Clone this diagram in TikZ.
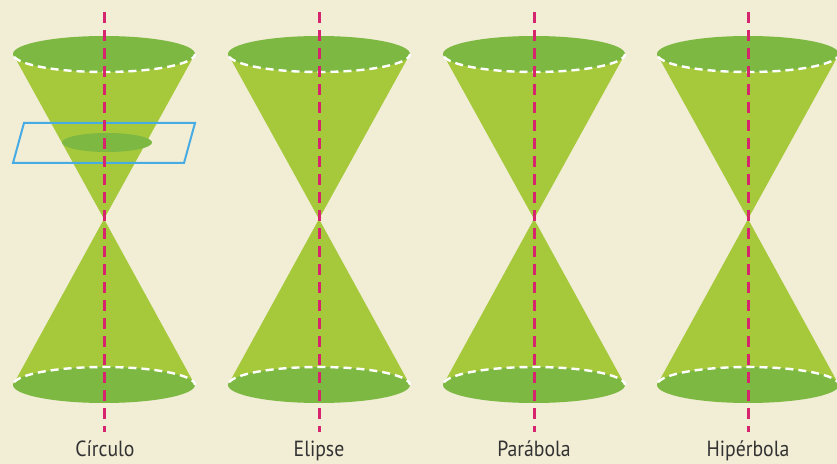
\documentclass[tikz,border=0pt]{standalone}
\usepackage{fontspec}
\setmainfont{PT Sans}
\definecolor{paper}{RGB}{242,237,213}
\definecolor{conelight}{RGB}{166,201,60}
\definecolor{conedark}{RGB}{124,184,66}
\definecolor{axisred}{RGB}{214,36,110}
\definecolor{planeblue}{RGB}{72,172,228}
\definecolor{labelgrey}{RGB}{50,50,50}
\tikzset{
  conesurf/.style={fill=conelight},
  rim/.style={fill=conedark},
  hiddenedge/.style={draw=white, line width=2.4bp, dash pattern=on 8bp off 5bp, dash phase=2bp},
  coneaxis/.style={draw=axisred, line width=3bp, dash pattern=on 11bp off 7bp},
  cutplane/.style={draw=planeblue, line width=2bp, line join=miter},
  caption/.style={text=labelgrey, font=\fontsize{22}{26}\selectfont, anchor=base, inner sep=0pt},
  doublecone/.pic={
    % upper and lower nappes
    \fill[conesurf] (-91,54) -- (0,219) -- (91,54) -- cycle;
    \fill[conesurf] (-91,385) -- (0,219) -- (91,385) -- cycle;
    % rims of the nappes
    \fill[rim] (0,54) ellipse [x radius=91, y radius=18];
    \fill[rim] (0,385) ellipse [x radius=91, y radius=18];
    % hidden halves of the rims
    \draw[hiddenedge] (91,54) arc [start angle=0, end angle=180, x radius=91, y radius=18];
    \draw[hiddenedge] (91,385) arc [start angle=0, end angle=-180, x radius=91, y radius=18];
  }
}
\begin{document}
\begin{tikzpicture}[x=1bp, y=-1bp]
  \useasboundingbox (0,0) rectangle (837,464);
  \fill[paper] (0,0) rectangle (837,464);

  \pic at (104,0) {doublecone};
  \pic at (319,0) {doublecone};
  \pic at (534,0) {doublecone};
  \pic at (748,0) {doublecone};

  % circular section and its cutting plane
  \fill[rim] (107,142.5) ellipse [x radius=45, y radius=9.5];
  \draw[cutplane] (24,123) -- (195,123) -- (184,163) -- (13,163) -- cycle;

  % axes of the cones
  \foreach \x in {104,319,534,748}
    \draw[coneaxis] (\x,12) -- (\x,432);

  % captions
  \node[caption] (c1) at (105,456.5) {\scalebox{0.9}[1]{Círculo}};
  \node[caption] (c2) at (319,456.5) {\scalebox{0.9}[1]{Elipse}};
  \node[caption] (c3) at (534,456.5) {\scalebox{0.9}[1]{Parábola}};
  \node[caption] (c4) at (748,456.5) {\scalebox{0.9}[1]{Hipérbola}};
\end{tikzpicture}
\end{document}
